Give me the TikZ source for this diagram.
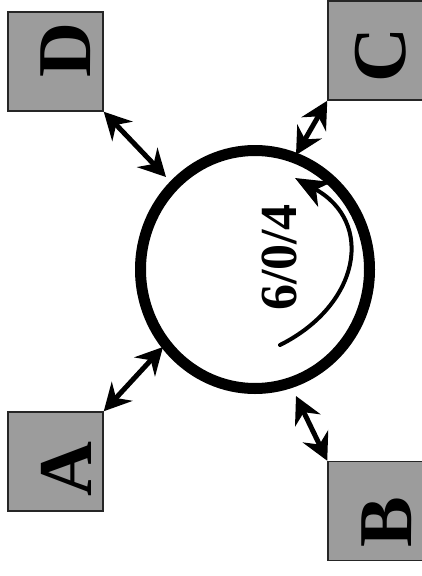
\documentclass[tikz,border=0pt]{standalone}
\usepackage{fontspec}
\setmainfont{Liberation Serif}
\usetikzlibrary{arrows.meta,shapes.geometric}
\definecolor{boxgray}{HTML}{9C9C9C}
\begin{document}
\begin{tikzpicture}[x=1pt,y=-1pt,
  box/.style={draw=black!85,line width=1.5pt,fill=boxgray,rectangle,minimum width=95pt,minimum height=99pt,inner sep=0pt},
  letter/.style={rotate=90,inner sep=0pt,font=\fontsize{76pt}{76pt}\selectfont\bfseries},
  link/.style={line width=5pt,{Stealth[length=27pt,width=28pt,inset=9pt]}-{Stealth[length=27pt,width=28pt,inset=9pt]}},
  ring/.style={draw,ellipse,line width=11pt,minimum width=229pt,minimum height=238pt,inner sep=0pt}]
\useasboundingbox (0,0) rectangle (422,576);
\clip (0,0) rectangle (422,576);
\node[box] (D) at (55.5,61.5) {};
\node[box] (C) at (375.5,50.5) {};
\node[box] (A) at (55.5,461.5) {};
\node[box] (B) at (375.5,511) {};
\node[letter] (Dl) at (66,50.5) {D};
\node[letter] (Cl) at (380.5,55.5) {C};
\node[letter] (Al) at (66.5,469) {A};
\node[letter] (Bl) at (387,522) {B};
\node[ring] (R) at (255,269.5) {};
\coordinate (dR) at (166,177);
\coordinate (cR) at (296,155);
\coordinate (aR) at (163,347);
\coordinate (bR) at (296,396);
\coordinate (arcS) at (280,345);
\coordinate (arcE) at (295,178);
\draw[link] (D.south east) -- (dR);
\draw[link] (C.south west) -- (cR);
\draw[link] (A.north east) -- (aR);
\draw[link] (B.north west) -- (bR);
\draw[line width=4pt,line cap=round,-{Stealth[length=34pt,width=28pt,inset=10pt]}] (arcS) .. controls (360,305) and (375,222) .. (arcE);
\node[rotate=90,inner sep=0pt,font=\fontsize{52pt}{52pt}\selectfont\bfseries] (T) at (279.5,257.5) {6/0/4};
\end{tikzpicture}
\end{document}
